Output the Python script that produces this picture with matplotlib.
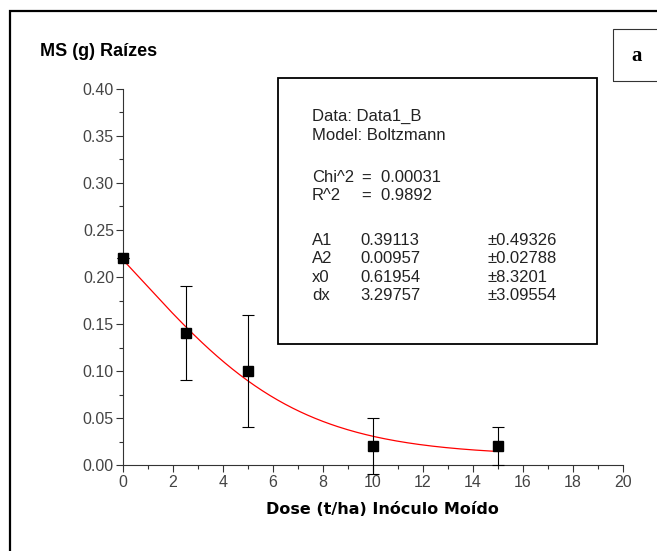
import matplotlib.pyplot as plt
import numpy as np
from matplotlib.patches import Rectangle

plt.rcParams['font.family'] = ['Liberation Sans', 'DejaVu Sans']

# dados
dose = [0, 2.5, 5, 10, 15]
ms = [0.22, 0.14, 0.10, 0.02, 0.02]
erro = [0.0, 0.05, 0.06, 0.03, 0.02]

# parametros do ajuste Boltzmann
A1, A2, x0, dx = 0.39113, 0.00957, 0.61954, 3.29757

xticks = [0, 2, 4, 6, 8, 10, 12, 14, 16, 18, 20]
yticks = [0.00, 0.05, 0.10, 0.15, 0.20, 0.25, 0.30, 0.35, 0.40]

W, H = 657, 551


def fx(px):
    return px / W


def fy(py):
    return 1 - py / H


def main():
    fig = plt.figure(figsize=(6.57, 5.51), dpi=100)
    fig.patch.set_facecolor('white')

    # moldura externa
    fig.add_artist(Rectangle((fx(10), -0.1), 1.2, fy(11) + 0.1, transform=fig.transFigure,
                             fill=False, edgecolor='black', linewidth=1.6))
    # caixa "a"
    fig.add_artist(Rectangle((fx(613), fy(81)), 0.3, 52/H, transform=fig.transFigure,
                             fill=False, edgecolor='#333333', linewidth=0.8))
    fig.text(fx(637), fy(56), 'a', family='Liberation Serif', fontsize=15,
             fontweight='bold', va='center', ha='center')

    ax = fig.add_axes([fx(123), fy(465), 500/W, 376/H])
    ax.set_xlim(0, 20)
    ax.set_ylim(0, 0.40)

    xf = np.linspace(0, 15, 200)
    yf = A2 + (A1 - A2) / (1 + np.exp((xf - x0) / dx))
    ax.plot(xf, yf, color='red', linewidth=0.9, clip_on=False)

    ax.errorbar(dose, ms, yerr=erro, fmt='s', color='black', markersize=7,
                ecolor='black', elinewidth=0.8, capsize=4, capthick=0.8,
                clip_on=False, zorder=5)

    ax.spines['top'].set_visible(False)
    ax.spines['right'].set_visible(False)
    for s in ['left', 'bottom']:
        ax.spines[s].set_color('#333333')
        ax.spines[s].set_linewidth(0.8)

    ax.set_xticks(xticks)
    ax.set_yticks(yticks)
    ax.set_xticklabels([str(t) for t in xticks])
    ax.set_yticklabels(['%.2f' % t for t in yticks])
    ax.set_xticks(np.arange(1, 20, 2), minor=True)
    ax.set_yticks(np.arange(0.025, 0.40, 0.05), minor=True)
    ax.tick_params(which='major', direction='out', length=5, width=0.8,
                   color='#333333', labelsize=11.5, labelcolor='#444444')
    ax.tick_params(which='minor', direction='out', length=3, width=0.8, color='#333333')
    ax.tick_params(axis='x', pad=2)
    ax.tick_params(axis='y', pad=1.5)

    fig.text(fx(40), fy(52), 'MS (g) Raízes', fontsize=13, fontweight='bold',
             va='center', ha='left')
    fig.text(fx(382), fy(510), 'Dose (t/ha) Inóculo Moído', family='DejaVu Sans',
             fontsize=11.5, fontweight='bold', va='center', ha='center')

    # caixa de resultados
    fig.add_artist(Rectangle((fx(278), fy(344)), 319/W, 266/H,
                             transform=fig.transFigure, fill=False,
                             edgecolor='black', linewidth=1.3))
    fs = 12
    c = '#222222'
    fig.text(fx(312), fy(116), 'Data: Data1_B', fontsize=fs, color=c, va='center')
    fig.text(fx(312), fy(135), 'Model: Boltzmann', fontsize=fs, color=c, va='center')
    fig.text(fx(312), fy(178), 'Chi^2', fontsize=fs, color=c, va='center')
    fig.text(fx(362), fy(178), '=  0.00031', fontsize=fs, color=c, va='center')
    fig.text(fx(312), fy(195), 'R^2', fontsize=fs, color=c, va='center')
    fig.text(fx(362), fy(195), '=  0.9892', fontsize=fs, color=c, va='center')
    nomes = ['A1', 'A2', 'x0', 'dx']
    vals = ['0.39113', '0.00957', '0.61954', '3.29757']
    errs = ['±0.49326', '±0.02788', '±8.3201', '±3.09554']
    for i in range(4):
        y = fy(240 + i * 18.5)
        fig.text(fx(312), y, nomes[i], fontsize=fs, color=c, va='center')
        fig.text(fx(360), y, vals[i], fontsize=fs, color=c, va='center')
        fig.text(fx(487), y, errs[i], fontsize=fs, color=c, va='center')

    fig.savefig('out.png', dpi=100)


if __name__ == "__main__":
    main()
